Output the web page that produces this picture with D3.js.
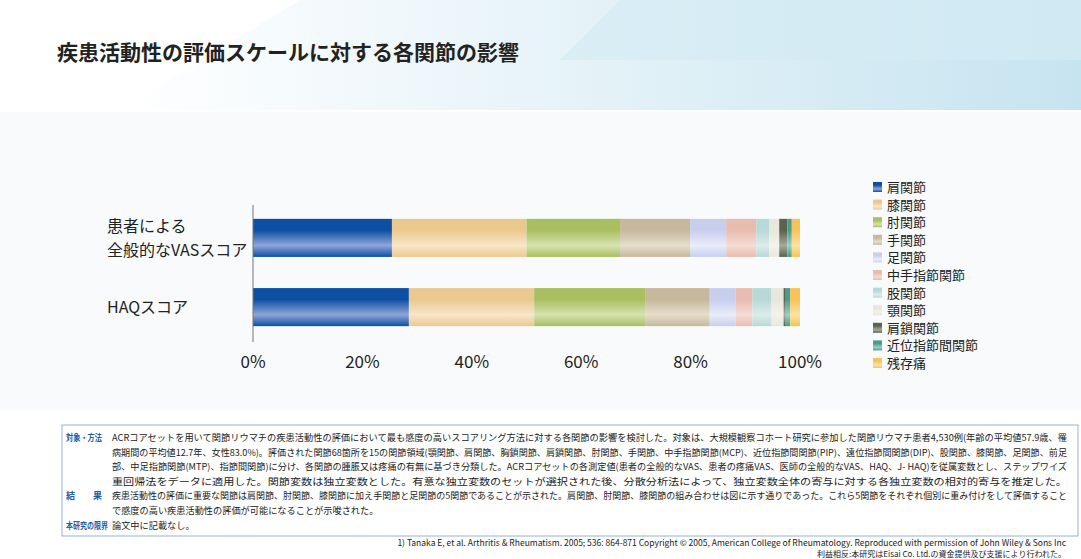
<!DOCTYPE html><html><head><meta charset="utf-8"><script src="https://cdn.jsdelivr.net/npm/d3@7"></script>
<style>body{margin:0;font-family:"Noto Sans CJK JP",sans-serif}</style></head><body><svg id="c" width="1081" height="559"></svg>
<script>
const categories=["患者による\n全般的なVASスコア","HAQスコア"];
const joints=["肩関節","膝関節","肘関節","手関節","足関節","中手指節関節","股関節","顎関節","肩鎖関節","近位指節間関節","残存痛"];
const vasValues=[25.4,24.6,17.1,12.8,6.6,5.5,2.4,1.8,1.5,0.8,1.5];
const haqValues=[28.5,22.9,20.4,11.7,4.7,3.1,3.5,2.2,0.4,0.8,1.8];
const ticks=[0,20,40,60,80,100];
const colors=[["#0d4fa3","#8fa6d8"],["#ebc98e","#f7e6c9"],["#a9bf60","#d7e2b0"],["#c6b89c","#e6ddcc"],["#c8cfee","#e9ecf8"],["#e9bcb0","#f4dcd4"],["#b7d9d8","#dcecea"],["#e9e6dc","#f4f2ec"],["#5a6350","#a5aa98"],["#4a9c8c","#9ccfc4"],["#f6c35a","#fbe2a4"]];
const svg=d3.select("#c");
svg.append("rect").attr("width",1081).attr("height",559).attr("fill","#fff");
const defs=svg.append("defs");
const bg=defs.append("linearGradient").attr("id","bg").attr("x1",0).attr("x2",1);
bg.append("stop").attr("offset",0).attr("stop-color","#fff");bg.append("stop").attr("offset",0.5).attr("stop-color","#e4f2f8");bg.append("stop").attr("offset",1).attr("stop-color","#c6e4f0");
svg.append("path").attr("d","M300,0 L1081,0 L1081,110 L120,110 Z").attr("fill","url(#bg)");
svg.append("path").attr("d","M620,0 L1081,0 L1081,60 L560,60 Z").attr("fill","#d4ebf4").attr("opacity",0.7);
svg.append("path").attr("d","M0,112 L1081,112 L1081,410 L0,410Z").attr("fill","#f8fafc");
colors.forEach((c,i)=>{const g=defs.append("linearGradient").attr("id","g"+i).attr("x1",0).attr("x2",0).attr("y1",0).attr("y2",1);
g.append("stop").attr("offset",0).attr("stop-color",c[0]);g.append("stop").attr("offset",0.3).attr("stop-color",c[0]);g.append("stop").attr("offset",0.7).attr("stop-color",c[1]);g.append("stop").attr("offset",1).attr("stop-color",c[0]);});
svg.append("text").attr("x",57).attr("y",60).attr("font-size",21).attr("font-weight","bold").attr("fill","#222").text("疾患活動性の評価スケールに対する各関節の影響");
const x=d3.scaleLinear().domain([0,100]).range([253,800]);
const y=d3.scaleBand().domain(categories).range([205,340]).paddingInner(0.45).paddingOuter(0.2);
[vasValues,haqValues].forEach((vals,r)=>{let acc=0;vals.forEach((v,i)=>{svg.append("rect").attr("x",x(acc)).attr("width",x(acc+v)-x(acc)).attr("y",y(categories[r])).attr("height",y.bandwidth()).attr("fill",`url(#g${i})`);acc+=v;});});
svg.append("line").attr("x1",x(0)).attr("x2",x(0)).attr("y1",205).attr("y2",342).attr("stroke","#777");
ticks.forEach(t=>svg.append("text").attr("x",x(t)).attr("y",368).attr("text-anchor","middle").attr("font-size",17).attr("fill","#222").text(t+"%"));
categories.forEach(c=>{const lines=c.split("\n");lines.forEach((l,k)=>svg.append("text").attr("x",107).attr("y",y(c)+y.bandwidth()/2+6+(k-(lines.length-1)/2)*24).attr("font-size",16).attr("fill","#222").text(l));});
joints.forEach((j,i)=>{const yy=187+i*17.6;svg.append("rect").attr("x",873).attr("y",yy-5).attr("width",9).attr("height",10).attr("fill",`url(#g${i})`);
svg.append("text").attr("x",887).attr("y",yy+5).attr("font-size",13).attr("fill","#222").text(j);});
svg.append("rect").attr("x",62).attr("y",425).attr("width",1016).attr("height",111).attr("fill","#fff").attr("stroke","#8fb4d8");
const foot=[["対象・方法","ACRコアセットを用いて関節リウマチの疾患活動性の評価において最も感度の高いスコアリング方法に対する各関節の影響を検討した。対象は、大規模観察コホート研究に参加した関節リウマチ患者4,530例(年齢の平均値57.9歳、罹"],
["","病期間の平均値12.7年、女性83.0%)。評価された関節68箇所を15の関節領域(顎関節、肩関節、胸鎖関節、肩鎖関節、肘関節、手関節、中手指節関節(MCP)、近位指節間関節(PIP)、遠位指節間関節(DIP)、股関節、膝関節、足関節、前足"],
["","部、中足指節関節(MTP)、指節間関節)に分け、各関節の腫脹又は疼痛の有無に基づき分類した。ACRコアセットの各測定値(患者の全般的なVAS、患者の疼痛VAS、医師の全般的なVAS、HAQ、J- HAQ)を従属変数とし、ステップワイズ"],
["","重回帰法をデータに適用した。関節変数は独立変数とした。有意な独立変数のセットが選択された後、分散分析法によって、独立変数全体の寄与に対する各独立変数の相対的寄与を推定した。"],
["結　　果","疾患活動性の評価に重要な関節は肩関節、肘関節、膝関節に加え手関節と足関節の5関節であることが示された。肩関節、肘関節、膝関節の組み合わせは図に示す通りであった。これら5関節をそれぞれ個別に重み付けをして評価すること"],
["","で感度の高い疾患活動性の評価が可能になることが示唆された。"],["本研究の限界","論文中に記載なし。"]];
foot.forEach((f,i)=>{const yy=441+i*14.6;if(f[0])svg.append("text").attr("x",66).attr("y",yy).attr("font-size",9).attr("font-weight","bold").attr("fill","#1d5ea8").attr("textLength",f[0].length>5?42:36).attr("lengthAdjust","spacingAndGlyphs").text(f[0]);
svg.append("text").attr("x",112).attr("y",yy).attr("font-size",9.2).attr("fill","#222").attr("textLength",f[1].length>60?955:null).attr("lengthAdjust","spacingAndGlyphs").text(f[1]);});
svg.append("text").attr("x",1066).attr("y",546).attr("text-anchor","end").attr("font-size",8.5).attr("fill","#222").text("1) Tanaka E, et al. Arthritis & Rheumatism. 2005; 536: 864-871 Copyright © 2005, American College of Rheumatology. Reproduced with permission of John Wiley & Sons Inc");
svg.append("text").attr("x",1066).attr("y",557).attr("text-anchor","end").attr("font-size",8).attr("fill","#222").text("利益相反:本研究はEisai Co. Ltd.の資金提供及び支援により行われた。");
</script></body></html>
